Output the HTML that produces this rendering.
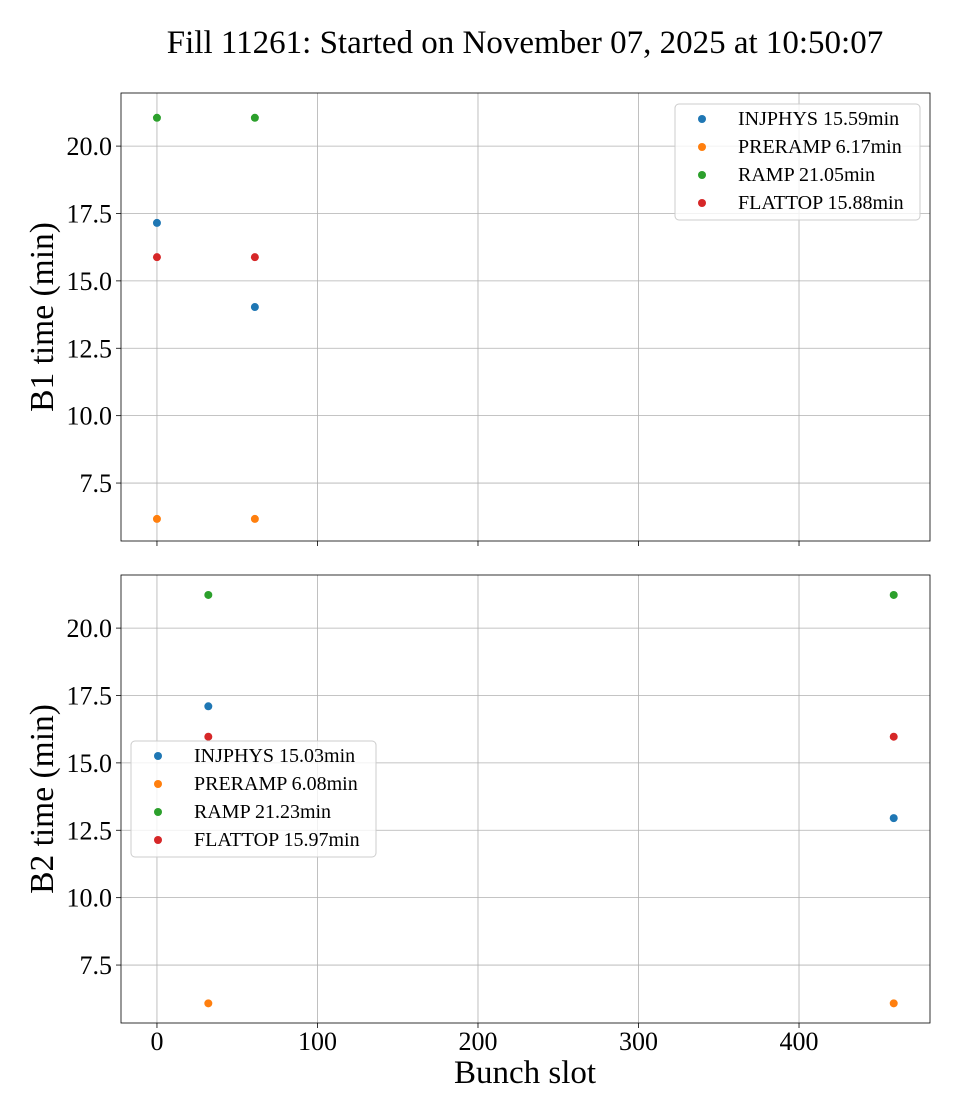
<!DOCTYPE html>
<html><head><meta charset="utf-8"><style>
body{margin:0;background:#fff;}
svg{display:block;font-family:"Liberation Serif","DejaVu Serif",serif;}
</style></head><body>
<svg id="chart" width="960" height="1120" viewBox="0 0 960 1120">
<text x="525" y="53" font-size="33" text-anchor="middle">Fill 11261: Started on November 07, 2025 at 10:50:07</text>
</svg>
<script>
const phases = ["INJPHYS","PRERAMP","RAMP","FLATTOP"];
const colors = ["#1f77b4","#ff7f0e","#2ca02c","#d62728"];
const b1Slots = [0, 61];
const b1Injphys = [17.15, 14.03];
const b1Preramp = [6.17, 6.17];
const b1Ramp = [21.05, 21.05];
const b1Flattop = [15.88, 15.88];
const b1Legend = ["INJPHYS 15.59min","PRERAMP 6.17min","RAMP 21.05min","FLATTOP 15.88min"];
const b2Slots = [32, 459];
const b2Injphys = [17.1, 12.95];
const b2Preramp = [6.08, 6.08];
const b2Ramp = [21.23, 21.23];
const b2Flattop = [15.97, 15.97];
const b2Legend = ["INJPHYS 15.03min","PRERAMP 6.08min","RAMP 21.23min","FLATTOP 15.97min"];
const xTicks = [0,100,200,300,400];
const yTicks = [7.5,10.0,12.5,15.0,17.5,20.0];

const NS="http://www.w3.org/2000/svg";
const svg=document.getElementById("chart");
function mk(tag,attrs,parent){const e=document.createElementNS(NS,tag);for(const k in attrs)e.setAttribute(k,attrs[k]);(parent||svg).appendChild(e);return e;}
const X0=121,X1=930,xmin=-22.4,xmax=481.6;
const xs=v=>X0+(v-xmin)/(xmax-xmin)*(X1-X0);
const ymin=5.35,ymax=21.97;

function panel(top,bot,slots,series,legend,legPos,ylabel,name,showXLabels){
  const ys=v=>bot-(v-ymin)/(ymax-ymin)*(bot-top);
  const g=mk("g",{});
  
  
  xTicks.forEach(t=>{
    const l=mk("line",{x1:xs(t),x2:xs(t),y1:top,y2:bot,stroke:"#b0b0b0","stroke-width":0.8},g);
    
    
    mk("line",{x1:xs(t),x2:xs(t),y1:bot,y2:bot+5,stroke:"#000","stroke-width":0.8},g);
    if(showXLabels){
      const tx=mk("text",{x:xs(t),y:bot+27,"font-size":26,"text-anchor":"middle"},g);
      tx.textContent=t;
      
      
    }
  });
  yTicks.forEach(t=>{
    const l=mk("line",{x1:X0,x2:X1,y1:ys(t),y2:ys(t),stroke:"#b0b0b0","stroke-width":0.8},g);
    
    
    mk("line",{x1:X0-5,x2:X0,y1:ys(t),y2:ys(t),stroke:"#000","stroke-width":0.8},g);
    const tx=mk("text",{x:X0-9,y:ys(t)+9,"font-size":26,"text-anchor":"end"},g);
    tx.textContent=t.toFixed(1);
    
    
  });
  const fr=mk("rect",{x:X0,y:top,width:X1-X0,height:bot-top,fill:"none",stroke:"#000","stroke-width":0.8},g);
  
  
  const yl=mk("text",{x:0,y:0,"font-size":33.5,"text-anchor":"middle",transform:`translate(53,${(top+bot)/2}) rotate(-90)`},g);
  yl.textContent=ylabel;
  
  
  series.forEach((vals,si)=>{
    vals.forEach((v,i)=>{
      const c=mk("circle",{cx:xs(slots[i]),cy:ys(v),r:4,fill:colors[si]},g);
      
      
    });
  });
  const lg=mk("g",{},g);
  
  
  mk("rect",{x:legPos[0],y:legPos[1],width:245,height:116,rx:4,fill:"#fff","fill-opacity":0.8,stroke:"#ccc","stroke-width":1},lg);
  legend.forEach((s,i)=>{
    const yy=legPos[1]+15+i*28;
    const c=mk("circle",{cx:legPos[0]+27,cy:yy,r:4,fill:colors[i]},lg);
    
    
    const t=mk("text",{x:legPos[0]+63,y:yy+6,"font-size":20},lg);
    t.textContent=s;
    
    
  });
}
panel(93,541,b1Slots,[b1Injphys,b1Preramp,b1Ramp,b1Flattop],b1Legend,[675,104],"B1 time (min)","b1-panel",false);
panel(575,1023,b2Slots,[b2Injphys,b2Preramp,b2Ramp,b2Flattop],b2Legend,[131,741],"B2 time (min)","b2-panel",true);
const xl=mk("text",{x:525,y:1083,"font-size":33,"text-anchor":"middle"});
xl.textContent="Bunch slot";


</script>
</body></html>
